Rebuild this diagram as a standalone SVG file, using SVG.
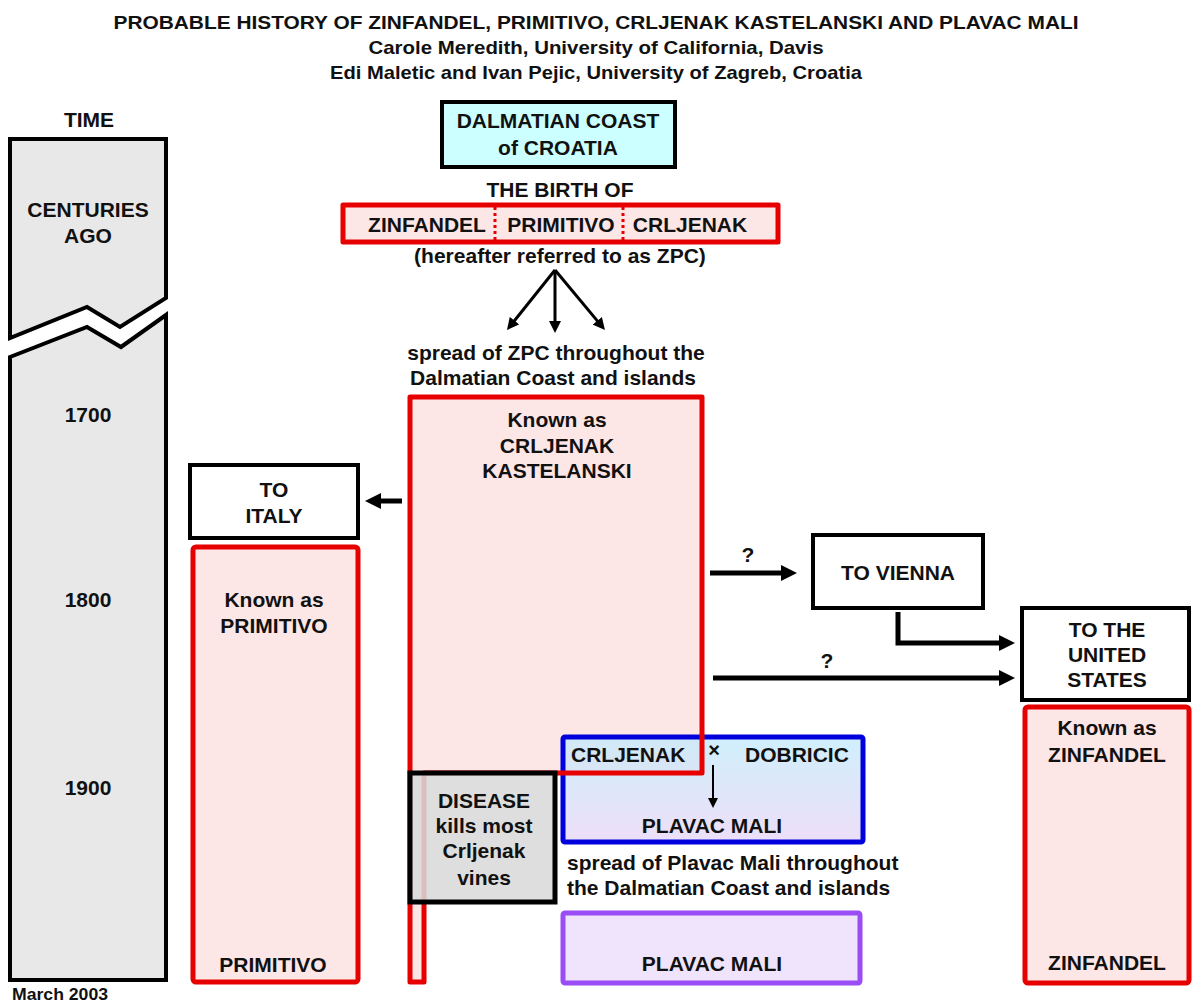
<svg xmlns="http://www.w3.org/2000/svg" width="1192" height="1006" viewBox="0 0 1192 1006">
<defs>
  <linearGradient id="blueGrad" x1="0" y1="0" x2="0" y2="1">
    <stop offset="0" stop-color="#c4ebfb"/>
    <stop offset="1" stop-color="#e9d7f7"/>
  </linearGradient>
  <marker id="ah" markerUnits="userSpaceOnUse" markerWidth="16" markerHeight="16" viewBox="0 0 16 16" refX="4" refY="8" orient="auto">
    <path d="M0,0 L16,8 L0,16 z" fill="#000"/>
  </marker>
  <marker id="ahs" markerUnits="userSpaceOnUse" markerWidth="12" markerHeight="12" viewBox="0 0 12 12" refX="3" refY="6" orient="auto">
    <path d="M0,0 L12,6 L0,12 z" fill="#000"/>
  </marker>
  <marker id="aht" markerUnits="userSpaceOnUse" markerWidth="10" markerHeight="10" viewBox="0 0 10 10" refX="2" refY="5" orient="auto">
    <path d="M0,0 L10,5 L0,10 z" fill="#000"/>
  </marker>
</defs>
<style>
  text { font-family: "Liberation Sans", Arial, sans-serif; font-weight: bold; fill: #111; }
  .l { font-size: 21px; text-anchor: middle; }
  .ls { font-size: 21px; text-anchor: start; }
  .title { font-size: 19px; text-anchor: middle; }
  .red { fill: #fde6e6; stroke: #e60000; stroke-width: 5; stroke-linejoin: round; }
  .redfill { fill: #fde6e6; stroke: none; }
  .redline { fill: none; stroke: #e60000; stroke-width: 5; stroke-linejoin: round; }
  .blk { fill: #ffffff; stroke: #000; stroke-width: 4; }
  .time { fill: #e8e8e8; stroke: #000; stroke-width: 4; stroke-linejoin: miter; }
  .arr { fill: none; stroke: #000; stroke-width: 5; }
  .arrs { fill: none; stroke: #000; stroke-width: 3; }
  .arrt { fill: none; stroke: #000; stroke-width: 2; }
</style>
<rect width="1192" height="1006" fill="#fff"/>

<g id="title">
  <text class="title" x="596" y="29" textLength="965" lengthAdjust="spacingAndGlyphs">PROBABLE HISTORY OF ZINFANDEL, PRIMITIVO, CRLJENAK KASTELANSKI AND PLAVAC MALI</text>
  <text class="title" x="596" y="54" textLength="455" lengthAdjust="spacingAndGlyphs">Carole Meredith, University of California, Davis</text>
  <text class="title" x="596" y="79" textLength="532" lengthAdjust="spacingAndGlyphs">Edi Maletic and Ivan Pejic, University of Zagreb, Croatia</text>
</g>

<g id="timeline">
  <text class="l" x="89" y="127">TIME</text>
  <path class="time" d="M10,139 L166,139 L166,298 L120,327 L87,307 L10,338 Z"/>
  <path class="time" d="M10,357 L87,327 L121,347 L166,315 L166,980 L10,980 Z"/>
  <text class="l" x="88" y="217">CENTURIES</text>
  <text class="l" x="88" y="243">AGO</text>
  <text class="l" x="88" y="422">1700</text>
  <text class="l" x="88" y="607">1800</text>
  <text class="l" x="88" y="795">1900</text>
  <text x="12" y="1000" font-size="16" textLength="96" lengthAdjust="spacingAndGlyphs">March 2003</text>
</g>

<g id="dalmatian">
  <rect x="442" y="102" width="233" height="65" fill="#ccffff" stroke="#000" stroke-width="4"/>
  <text class="l" x="558" y="128">DALMATIAN COAST</text>
  <text class="l" x="558" y="155">of CROATIA</text>
</g>

<g id="birth">
  <text class="l" x="560" y="197">THE BIRTH OF</text>
  <rect class="red" x="343" y="205" width="435" height="37" stroke-width="4"/>
  <line x1="495" y1="207" x2="495" y2="240" stroke="#e60000" stroke-width="3" stroke-dasharray="3,3"/>
  <line x1="623" y1="207" x2="623" y2="240" stroke="#e60000" stroke-width="3" stroke-dasharray="3,3"/>
  <text class="l" x="427" y="232">ZINFANDEL</text>
  <text class="l" x="561" y="232">PRIMITIVO</text>
  <text class="l" x="690" y="232">CRLJENAK</text>
  <text class="l" x="560" y="263">(hereafter referred to as ZPC)</text>
</g>

<g id="spread-zpc">
  <text class="l" x="556" y="360">spread of ZPC throughout the</text>
  <text class="l" x="553" y="385">Dalmatian Coast and islands</text>
</g>

<g id="crljenak-fill">
  <path class="redfill" d="M410,397 L702,397 L702,773 L424,773 L424,982 L410,982 Z"/>
</g>

<g id="plavac-cross">
  <rect x="563" y="737" width="300" height="105" fill="url(#blueGrad)" fill-opacity="0.8" stroke="#0000dd" stroke-width="5" rx="2"/>
</g>

<g id="crljenak">
  <path class="redline" d="M410,397 L702,397 L702,773 L424,773 L424,982 L410,982 Z"/>
  <text class="l" x="557" y="427">Known as</text>
  <text class="l" x="557" y="453">CRLJENAK</text>
  <text class="l" x="557" y="478">KASTELANSKI</text>
</g>

<g id="plavac-cross-text">
  <text class="ls" x="571" y="762">CRLJENAK</text>
  <text x="714" y="757" font-size="20" font-weight="normal" text-anchor="middle">×</text>
  <text class="ls" x="745" y="762">DOBRICIC</text>
  <text class="l" x="712" y="833">PLAVAC MALI</text>
</g>

<g id="disease">
  <rect x="410" y="773" width="145" height="129" fill="#d9d9d9" fill-opacity="0.88" stroke="#000" stroke-width="5"/>
  <text class="l" x="484" y="808">DISEASE</text>
  <text class="l" x="484" y="833">kills most</text>
  <text class="l" x="484" y="858">Crljenak</text>
  <text class="l" x="484" y="885">vines</text>
</g>

<g id="spread-plavac">
  <text class="ls" x="567" y="870">spread of Plavac Mali throughout</text>
  <text class="ls" x="567" y="895">the Dalmatian Coast and islands</text>
</g>

<g id="plavac-mali">
  <rect x="563" y="913" width="297" height="70" fill="#efe4fb" stroke="#9a4cf5" stroke-width="5" rx="2"/>
  <text class="l" x="712" y="971">PLAVAC MALI</text>
</g>

<g id="to-italy">
  <rect class="blk" x="190" y="465" width="168" height="73"/>
  <text class="l" x="274" y="497">TO</text>
  <text class="l" x="274" y="523">ITALY</text>
</g>

<g id="primitivo">
  <rect class="red" x="193" y="547" width="165" height="435" rx="3"/>
  <text class="l" x="274" y="607">Known as</text>
  <text class="l" x="274" y="633">PRIMITIVO</text>
  <text class="l" x="273" y="972">PRIMITIVO</text>
</g>

<g id="to-vienna">
  <rect class="blk" x="813" y="535" width="170" height="73"/>
  <text class="l" x="898" y="580">TO VIENNA</text>
</g>

<g id="to-us">
  <rect class="blk" x="1022" y="608" width="167" height="92"/>
  <text class="l" x="1107" y="637">TO THE</text>
  <text class="l" x="1107" y="662">UNITED</text>
  <text class="l" x="1107" y="687">STATES</text>
</g>

<g id="zinfandel">
  <rect class="red" x="1025" y="707" width="164" height="276" rx="3"/>
  <text class="l" x="1107" y="735">Known as</text>
  <text class="l" x="1107" y="762">ZINFANDEL</text>
  <text class="l" x="1107" y="970">ZINFANDEL</text>
</g>

<g id="connectors">
  <line class="arrs" x1="555" y1="270" x2="512.6" y2="323" marker-end="url(#ahs)"/>
  <line class="arrs" x1="555" y1="270" x2="555" y2="324" marker-end="url(#ahs)"/>
  <line class="arrs" x1="555" y1="270" x2="599.2" y2="323.1" marker-end="url(#ahs)"/>
  <line class="arr" x1="402" y1="501" x2="377" y2="501" marker-end="url(#ah)"/>
  <line class="arr" x1="710" y1="573" x2="785" y2="573" marker-end="url(#ah)"/>
  <path class="arr" d="M898,612 L898,643 L1003,643" marker-end="url(#ah)"/>
  <line class="arr" x1="713" y1="678" x2="1003" y2="678" marker-end="url(#ah)"/>
  <line class="arrt" x1="713" y1="765" x2="713" y2="800" marker-end="url(#aht)"/>
  <text class="l" x="748" y="562">?</text>
  <text class="l" x="827" y="668">?</text>
</g>
</svg>
